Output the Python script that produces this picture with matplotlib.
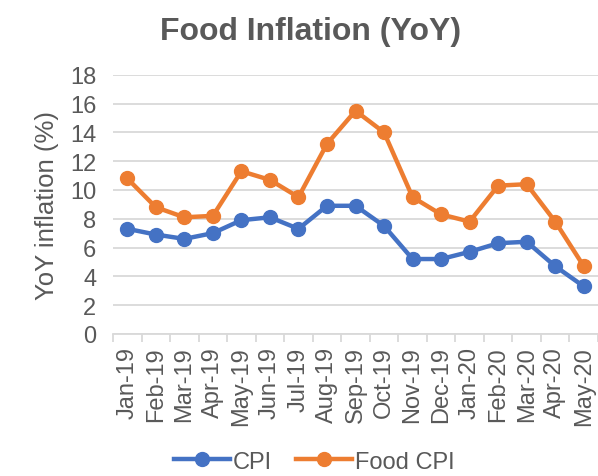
import numpy as np
import matplotlib
matplotlib.use("Agg")
import matplotlib.pyplot as plt

MONTHS = ["Jan-19", "Feb-19", "Mar-19", "Apr-19", "May-19", "Jun-19", "Jul-19",
          "Aug-19", "Sep-19", "Oct-19", "Nov-19", "Dec-19", "Jan-20", "Feb-20",
          "Mar-20", "Apr-20", "May-20"]
CPI = [7.3, 6.9, 6.6, 7.0, 7.9, 8.1, 7.3, 8.9, 8.9, 7.5, 5.2, 5.2, 5.7, 6.3, 6.4, 4.7, 3.3]
FOOD_CPI = [10.8, 8.8, 8.1, 8.2, 11.3, 10.7, 9.5, 13.2, 15.5, 14.0, 9.5, 8.3, 7.8, 10.3, 10.4, 7.8, 4.7]

plt.rcParams["font.family"] = ["Liberation Sans", "DejaVu Sans"]
TXT = "#595959"

fig = plt.figure(figsize=(5.98, 4.77), dpi=100)
ax = fig.add_axes([0.189, 0.298, 0.811, 0.543])

x = np.arange(len(MONTHS))
ax.plot(x, CPI, color="#4472C4", lw=3.2, marker="o", ms=10, label="CPI", zorder=3)
ax.plot(x, FOOD_CPI, color="#ED7D31", lw=3.2, marker="o", ms=10, label="Food CPI", zorder=3)

ax.set_xlim(-0.5, len(MONTHS) - 0.5)
ax.set_ylim(0, 18)
ax.set_yticks(np.arange(0, 19, 2))
ax.yaxis.grid(True, color="#D9D9D9", lw=1.3)
ax.set_axisbelow(True)

ax.set_xticks(x)
ax.set_xticklabels(MONTHS, rotation=90, fontsize=17, color=TXT)
ax.set_xticks(np.arange(-0.5, len(MONTHS)), minor=True)
ax.tick_params(axis="x", which="major", length=0, pad=9)
ax.tick_params(axis="x", which="minor", length=6, color="#D9D9D9", width=1.3)
ax.tick_params(axis="y", length=0, labelsize=17, labelcolor=TXT, pad=12)

for s in ["top", "right", "left"]:
    ax.spines[s].set_visible(False)
ax.spines["bottom"].set_color("#D9D9D9")
ax.spines["bottom"].set_linewidth(1.3)

ax.set_ylabel("YoY inflation (%)", fontsize=18.5, color=TXT, labelpad=8)
fig.suptitle("Food Inflation (YoY)", fontsize=23, fontweight="bold", color=TXT,
             x=0.52, y=0.965)

fig.legend(loc="center", bbox_to_anchor=(0.525, 0.03), ncol=2, frameon=False,
           fontsize=17, labelcolor=TXT, handlelength=2.4, columnspacing=1.0,
           handletextpad=0.1)

fig.savefig("out.png", dpi=100)
